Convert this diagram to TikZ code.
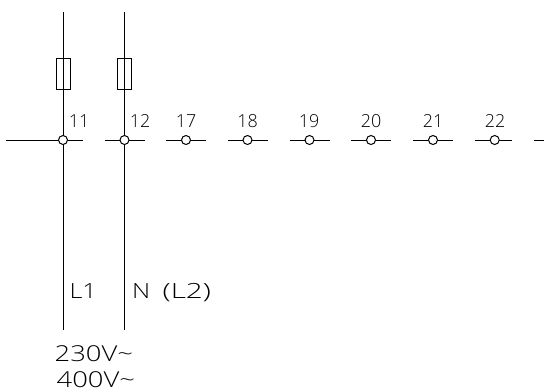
\documentclass[tikz,border=0pt]{standalone}
\usepackage{fontspec}
\setmainfont{Open Sans Light}
\begin{document}
\begin{tikzpicture}[x=1bp,y=-1bp,line width=1bp,
  term/.style={circle,draw,fill=white,minimum size=9bp,inner sep=0pt},
  fuse/.style={rectangle,draw,minimum width=14bp,minimum height=31bp,inner sep=0pt},
  num/.style={inner sep=0pt,font=\fontsize{18}{18}\selectfont,xscale=1,anchor=base},
  lab/.style={inner sep=0pt,font=\fontsize{21}{21}\selectfont,xscale=1.2,anchor=base west},
  volt/.style={inner sep=0pt,font=\fontsize{22}{22}\selectfont,xscale=1.25,anchor=base west}]
\useasboundingbox (0,0) rectangle (544,390);
% free ends
\coordinate (ta) at (63,12);
\coordinate (tb) at (124.5,12);
\coordinate (ba) at (63,330);
\coordinate (bb) at (124.5,330);
\coordinate (h0) at (6,140);
\coordinate (la) at (83,140);
\coordinate (lb) at (104.5,140);
\coordinate (rb) at (145,140);
\coordinate (lc) at (166,140);
\coordinate (rc) at (206,140);
\coordinate (ld) at (228,140);
\coordinate (rd) at (268,140);
\coordinate (le) at (289.5,140);
\coordinate (re) at (329.5,140);
\coordinate (lf) at (351,140);
\coordinate (rf) at (391,140);
\coordinate (lg) at (413,140);
\coordinate (rg) at (453,140);
\coordinate (lh) at (474.5,140);
\coordinate (rh) at (512,140);
\coordinate (li) at (534,140);
\coordinate (ri) at (544,140);
% lines
\draw (ta) -- (ba);
\draw (tb) -- (bb);
\draw (h0) -- (la);
\draw (lb) -- (rb);
\draw (lc) -- (rc);
\draw (ld) -- (rd);
\draw (le) -- (re);
\draw (lf) -- (rf);
\draw (lg) -- (rg);
\draw (lh) -- (rh);
\draw (li) -- (ri);
% fuses
\node[fuse] (fa) at (63,73.5) {};
\node[fuse] (fb) at (124.5,73.5) {};
% terminals
\node[term] (a) at (63,140) {};
\node[term] (b) at (124.5,140) {};
\node[term] (c) at (186,140) {};
\node[term] (d) at (247.5,140) {};
\node[term] (e) at (309.5,140) {};
\node[term] (f) at (371,140) {};
\node[term] (g) at (433,140) {};
\node[term] (h) at (494.7,140) {};
% labels
\node[num] (t11) at (79,127.5) {11};
\node[num] (t12) at (140,127.5) {12};
\node[num] (t17) at (186,127.5) {17};
\node[num] (t18) at (247.5,127.5) {18};
\node[num] (t19) at (309,127.5) {19};
\node[num] (t20) at (371,127.5) {20};
\node[num] (t21) at (433,127.5) {21};
\node[num] (t22) at (495,127.5) {22};
\node[lab] (l1) at (69,298) {L1};
\node[lab,xscale=1] (l2) at (131.5,298) {N};
\node[lab,xscale=1.18] (l3) at (162,298) {(L2)};
\node[volt] (v1) at (54,361.5) {230V\char`\~};
\node[volt] (v2) at (56,387) {400V\char`\~};
\end{tikzpicture}
\end{document}
